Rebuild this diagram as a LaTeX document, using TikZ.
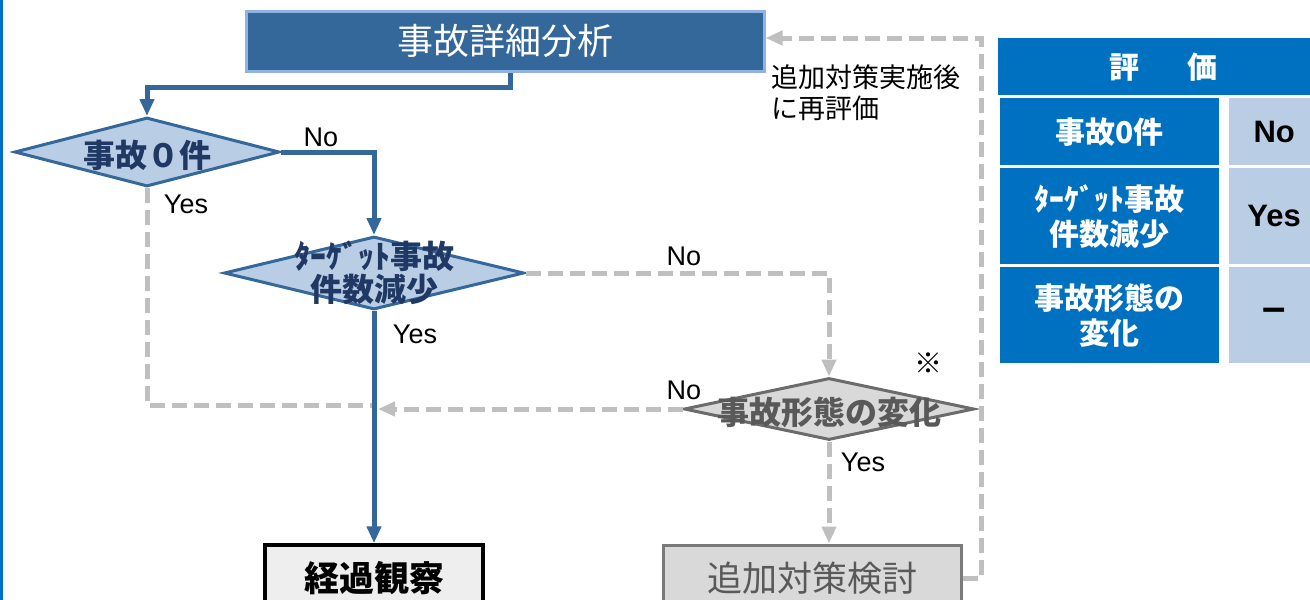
\documentclass[tikz,border=0pt]{standalone}
\usepackage{fontspec}
\setmainfont{Liberation Sans}
\newfontfamily\jp{Noto Sans CJK JP}
\usetikzlibrary{shapes.geometric,arrows.meta}
\definecolor{dblue}{HTML}{34679A}
\definecolor{lborder}{HTML}{8FB4E3}
\definecolor{lblue}{HTML}{B9CDE5}
\definecolor{navy}{HTML}{203864}
\definecolor{dgray}{HTML}{595959}
\definecolor{mgray}{HTML}{6B6B6B}
\definecolor{lgray}{HTML}{D9D9D9}
\definecolor{dash}{HTML}{BFBFBF}
\definecolor{tblue}{HTML}{0070C0}
\definecolor{kfill}{HTML}{EEEEEE}
\begin{document}
\begin{tikzpicture}[x=1pt,y=-1pt,
  bluearrow/.style={draw=dblue, line width=5pt, -{Triangle[length=17pt,width=14pt]}},
  grayarrow/.style={draw=dash, line width=5pt, dash pattern=on 15pt off 7pt, -{Triangle[length=17pt,width=14pt]}},
  grayline/.style={draw=dash, line width=5pt, dash pattern=on 15pt off 7pt},
  bdia/.style={diamond, draw=dblue, fill=lblue, line width=3pt, inner sep=0pt},
  gdia/.style={diamond, draw=mgray, fill=lgray, line width=3pt, inner sep=0pt},
  dtext/.style={font=\jp\bfseries\fontsize{32}{33}\selectfont, text=navy, align=center, inner sep=0pt},
  lbl/.style={font=\fontsize{27}{29}\selectfont, text=black, inner sep=0pt},
  tcell/.style={rectangle, fill=tblue, text=white, font=\jp\bfseries\fontsize{30}{35}\selectfont, align=center, inner sep=0pt, anchor=north west},
  rcell/.style={rectangle, fill=lblue, text=black, font=\bfseries\fontsize{31}{33}\selectfont, align=center, inner sep=0pt, anchor=north west}
]
\useasboundingbox (0,0) rectangle (1310,600);
\clip (0,0) rectangle (1310,600);
\fill[tblue] (0,0) rectangle (2.5,600);

% boxes
\node[rectangle, draw=lborder, fill=dblue, line width=3pt, minimum width=518pt, minimum height=60pt, inner sep=0pt,
  text=white, font=\jp\fontsize{36}{38}\selectfont] (box1) at (505,41) {事故詳細分析};
\node[rectangle, draw=black, fill=kfill, line width=3.5pt, minimum width=218pt, minimum height=66pt, inner sep=0pt,
  font=\jp\bfseries\fontsize{35}{37}\selectfont] (kk) at (374,578) {経過観察};
\node[rectangle, draw=mgray!90, fill=lgray, line width=3pt, minimum width=298pt, minimum height=66pt, inner sep=0pt,
  text=dgray, font=\jp\fontsize{35}{37}\selectfont] (tk) at (812,578) {追加対策検討};

% diamonds
\node[bdia, minimum width=265pt, minimum height=69pt] (d1) at (147,152) {};
\node[bdia, minimum width=300pt, minimum height=73pt] (d2) at (374,273) {};
\node[gdia, minimum width=290pt, minimum height=62pt] (d3) at (829,409) {};

% coordinates
\coordinate (m1) at (374,405);
\coordinate (m2) at (378,409);
\coordinate (c1) at (981,38);

% gray dashed connectors
\draw[grayline] (d1.south) |- (m1);
\draw[grayarrow] (d2.east) -| (d3.north);
\draw[grayarrow] (d3.west) -- (m2);
\draw[grayarrow] (d3.south) -- (d3.south |- tk.north);
\draw[grayarrow] (tk.east) -| (c1) -- ([yshift=3pt]box1.east);

% blue connectors
\draw[bluearrow] ([xshift=5pt]box1.south) -- ++(0,15) -| (d1.north);
\draw[bluearrow] (d1.east) -| (d2.north);
\draw[bluearrow] (d2.south) -- (kk.north);

% diamond texts
\node[dtext] (t1) at ([yshift=-3pt]d1.center) {事故０件};
\node[dtext] (t2) at (d2.center) {ﾀｰｹﾞｯﾄ事故\\件数減少};
\node[dtext, text=dgray] (t3) at ([yshift=-3pt]d3.center) {事故形態の変化};

% labels
\node[lbl] (n1) at (321,137) {No};
\node[lbl] (y1) at (186,204) {Yes};
\node[lbl] (n2) at (684,256) {No};
\node[lbl] (y2) at (415,334) {Yes};
\node[lbl] (n3) at (684,390) {No};
\node[lbl] (y3) at (863,462) {Yes};
\node[font=\jp\bfseries\fontsize{28}{30}\selectfont, inner sep=0pt] (kome) at (928,363) {※};
\node[font=\jp\fontsize{27}{31}\selectfont, align=left, anchor=north west, inner sep=0pt] (note) at (771,65) {追加対策実施後\\に再評価};

% table
\node[tcell, minimum width=330pt, minimum height=57pt] (th) at (998,38) {評\hspace{1.6em}価};
\node[tcell, minimum width=219pt, minimum height=67pt] (r1l) at (1000,98) {事故0件};
\node[rcell, minimum width=90pt, minimum height=67pt] (r1r) at (1229,98) {No};
\node[tcell, minimum width=219pt, minimum height=96pt] (r2l) at (1000,168) {ﾀｰｹﾞｯﾄ事故\\件数減少};
\node[rcell, minimum width=90pt, minimum height=96pt] (r2r) at (1229,168) {Yes};
\node[tcell, minimum width=219pt, minimum height=96pt] (r3l) at (1000,267) {事故形態の\\変化};
\node[rcell, minimum width=90pt, minimum height=96pt, font=\bfseries\fontsize{42}{44}\selectfont] (r3r) at (1229,267) {–};
\end{tikzpicture}
\end{document}
